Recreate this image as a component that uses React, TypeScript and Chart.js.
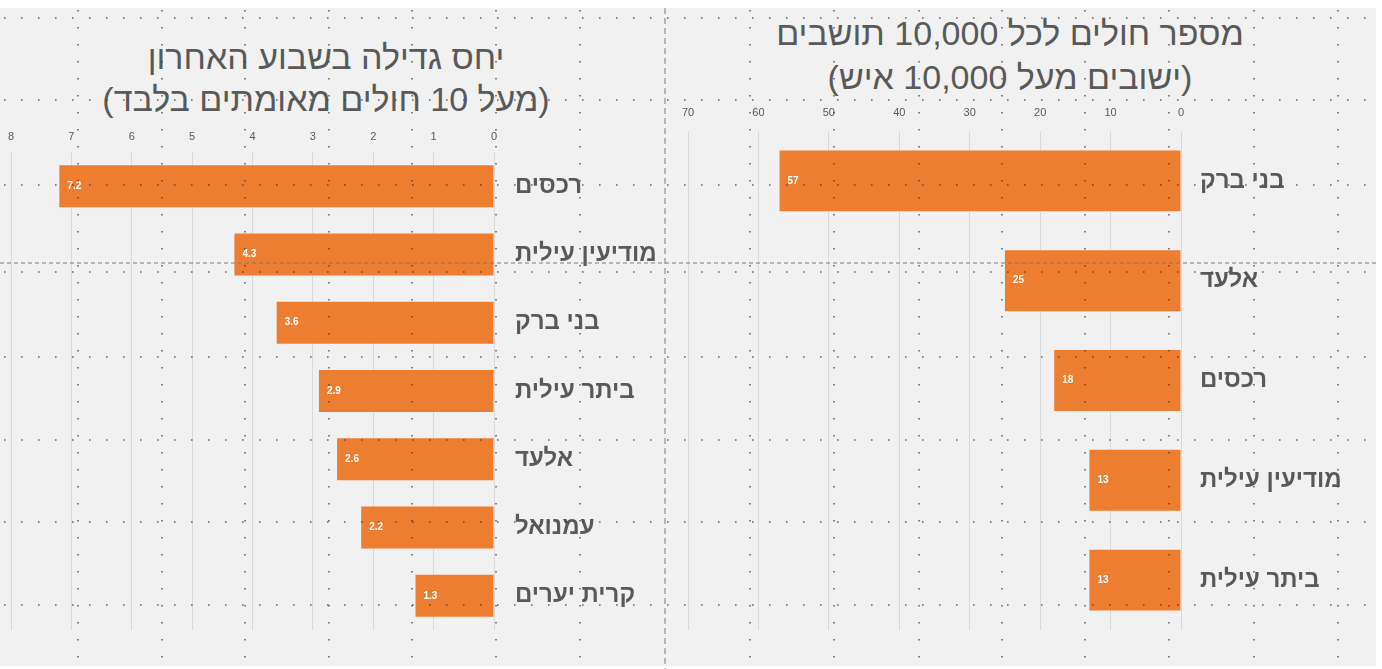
import React, { useEffect, useRef } from "react";
import { Chart, registerables } from "chart.js";

Chart.register(...registerables);

// ---- data ----
const growthCities = ["רכסים", "מודיעין עילית", "בני ברק", "ביתר עילית", "אלעד", "עמנואל", "קרית יערים"];
const growthValues = [7.2, 4.3, 3.6, 2.9, 2.6, 2.2, 1.3];
const growthTitle = ["יחס גדילה בשבוע האחרון", "(מעל 10 חולים מאומתים בלבד)"];
const growthMax = 8;
const growthStep = 1;

const rateCities = ["בני ברק", "אלעד", "רכסים", "מודיעין עילית", "ביתר עילית"];
const rateValues = [57, 25, 18, 13, 13];
const rateTitle = ["מספר חולים לכל 10,000 תושבים", "(ישובים מעל 10,000 איש)"];
const rateMax = 70;
const rateStep = 10;

// ---- styles ----
const ORANGE = "#ED7D31";
const TEXT = "#595959";
const GRID = "#d9d9d9";
const FAMILY = "'Liberation Sans', 'DejaVu Sans', Arial, sans-serif";

// page guide decoration (slide guides in the screenshot)
const GUIDE_ROWS = [18, 100, 185, 272, 357, 440, 522, 605];
const GUIDE_COLS = [78, 162, 245, 329, 412, 496, 580, 750, 834, 919, 1002, 1085, 1169, 1254, 1338];

const valueLabels = {
  id: "valueLabels",
  afterDatasetsDraw(chart: any) {
    const ctx = chart.ctx;
    const meta = chart.getDatasetMeta(0);
    const data = chart.data.datasets[0].data;
    ctx.save();
    ctx.fillStyle = "#ffffff";
    ctx.font = `bold 10px ${FAMILY}`;
    ctx.textAlign = "left";
    ctx.textBaseline = "middle";
    meta.data.forEach((bar: any, i: number) => {
      const p = bar.getProps(["x", "y"], true);
      ctx.fillText(String(data[i]), p.x + 8, p.y);
    });
    ctx.restore();
  },
};

type Opts = {
  padLeft: number;
  padTop: number;
  padBottom: number;
  xh: number;
  tickPad: number;
  yw: number;
  ypad: number;
  barPct: number;
};

function makeConfig(labels: string[], values: number[], max: number, step: number, o: Opts): any {
  return {
    type: "bar",
    data: {
      labels,
      datasets: [
        {
          data: values,
          backgroundColor: ORANGE,
          borderWidth: 0,
          barPercentage: o.barPct,
          categoryPercentage: 1,
        },
      ],
    },
    options: {
      indexAxis: "y",
      animation: false,
      responsive: false,
      maintainAspectRatio: false,
      events: [],
      layout: { padding: { left: o.padLeft, right: 0, top: o.padTop, bottom: o.padBottom } },
      plugins: {
        legend: { display: false },
        tooltip: { enabled: false },
        title: { display: false },
      },
      scales: {
        x: {
          position: "top",
          reverse: true,
          min: 0,
          max,
          ticks: {
            stepSize: step,
            color: TEXT,
            font: { family: FAMILY, size: 11 },
            padding: o.tickPad,
            maxRotation: 0,
          },
          grid: { color: GRID, lineWidth: 1, drawTicks: false },
          border: { display: false },
          afterFit: (s: any) => {
            s.height = o.xh;
          },
        },
        y: {
          position: "right",
          grid: { display: false, drawTicks: false },
          border: { display: false },
          ticks: {
            color: TEXT,
            font: { family: FAMILY, size: 24, weight: "bold" },
            padding: o.ypad,
          },
          afterFit: (s: any) => {
            s.width = o.yw;
          },
        },
      },
    },
    plugins: [valueLabels],
  };
}

function BarChart({ config, left, width }: { config: any; left: number; width: number }) {
  const ref = useRef<HTMLCanvasElement | null>(null);
  useEffect(() => {
    if (!ref.current) return;
    const chart = new Chart(ref.current, config);
    return () => chart.destroy();
  }, [config]);
  return (
    <canvas
      ref={ref}
      width={width}
      height={669}
      dir="rtl"
      style={{ position: "absolute", left, top: 0, width, height: 669 }}
    />
  );
}

function Title({ lines, center, top, lineHeight }: { lines: string[]; center: number; top: number; lineHeight: number }) {
  return (
    <div
      dir="rtl"
      style={{
        position: "absolute",
        left: center - 300,
        width: 600,
        top,
        textAlign: "center",
        fontFamily: FAMILY,
        fontSize: 34,
        lineHeight: `${lineHeight}px`,
        color: TEXT,
        whiteSpace: "nowrap",
      }}
    >
      {lines.map((l) => (
        <div key={l}>{l}</div>
      ))}
    </div>
  );
}

// left canvas spans 0..666, chart area x 10..494, y 152..630
const leftConfig = makeConfig(growthCities, growthValues, growthMax, growthStep, {
  padLeft: 10,
  padTop: 123,
  padBottom: 39,
  xh: 29,
  tickPad: 8,
  yw: 172,
  ypad: 21,
  barPct: 0.615,
});

// right canvas spans 665..1375, chart area x 688..1181, y 131..630
const rightConfig = makeConfig(rateCities, rateValues, rateMax, rateStep, {
  padLeft: 23,
  padTop: 99,
  padBottom: 39,
  xh: 32,
  tickPad: 11.4,
  yw: 194,
  ypad: 19,
  barPct: 0.61,
});

function Guides() {
  return (
    <svg
      width={1382}
      height={669}
      style={{ position: "absolute", left: 0, top: 0, pointerEvents: "none" }}
    >
      {GUIDE_ROWS.map((y) => (
        <line key={"r" + y} x1={4} x2={1376} y1={y} y2={y} stroke="#3a3a3a" strokeWidth={1.6} strokeDasharray="1.6 15.4" opacity={0.75} />
      ))}
      {GUIDE_COLS.map((x) => (
        <line key={"c" + x} x1={x} x2={x} y1={10} y2={666} stroke="#3a3a3a" strokeWidth={1.6} strokeDasharray="1.6 15.4" opacity={0.75} />
      ))}
      <line x1={0} x2={1376} y1={263} y2={263} stroke="#7a7a7a" strokeWidth={1} strokeDasharray="4 3" />
      <line x1={665} x2={665} y1={8} y2={669} stroke="#7a7a7a" strokeWidth={1} strokeDasharray="6 4" />
    </svg>
  );
}

export default function App() {
  return (
    <div
      style={{
        position: "fixed",
        left: 0,
        top: 0,
        width: 1382,
        height: 669,
        background: "#ffffff",
        overflow: "hidden",
      }}
    >
      <div style={{ position: "absolute", left: 0, top: 8, width: 1376, height: 658, background: "#f1f1f1" }} />
      <Title lines={growthTitle} center={326} top={36} lineHeight={42} />
      <Title lines={rateTitle} center={1010} top={11} lineHeight={44} />
      <BarChart config={leftConfig} left={0} width={666} />
      <BarChart config={rightConfig} left={665} width={710} />
      <Guides />
    </div>
  );
}
